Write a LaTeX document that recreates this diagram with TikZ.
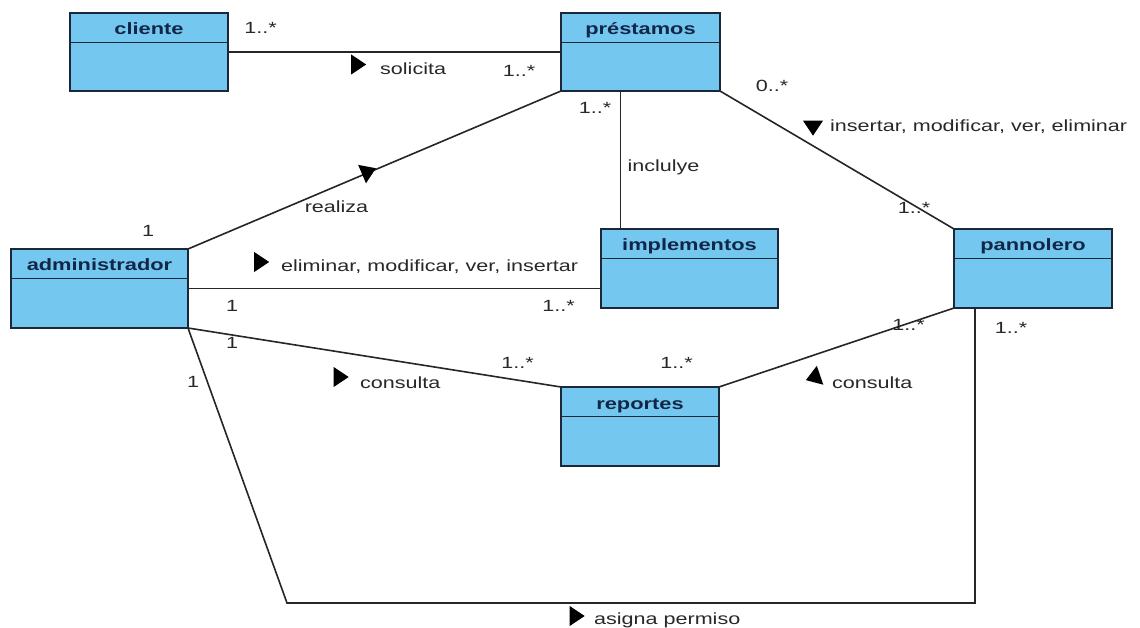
\documentclass[tikz,border=0pt]{standalone}
\usepackage{fontspec}
\newfontfamily\umlfont{Liberation Sans}[FakeStretch=1.33]
\usetikzlibrary{shapes.geometric}
\definecolor{boxfill}{RGB}{116,200,240}
\definecolor{boxline}{RGB}{28,40,58}
\definecolor{titlecol}{RGB}{18,38,72}
\definecolor{lblcol}{RGB}{40,40,40}
\begin{document}
\begin{tikzpicture}[x=1pt,y=-1pt,
  clsbox/.style={draw=boxline, line width=1.8pt, fill=boxfill, inner sep=0, outer sep=0},
  divider/.style={draw=boxline, line width=1.6pt},
  title/.style={font=\umlfont\bfseries\fontsize{16.4}{18}\selectfont, text=titlecol, inner sep=0, anchor=base},
  lbl/.style={font=\umlfont\fontsize{16.2}{18}\selectfont, text=lblcol, inner sep=0},
  assoc/.style={draw=black!85, line width=1.6pt},
  tri/.style={isosceles triangle, isosceles triangle stretches, minimum width=20pt, minimum height=15pt, inner sep=0, outer sep=0, fill=black, draw=none},
]
\useasboundingbox[fill=white] (0,0) rectangle (1140,628);

\node[clsbox, minimum width=158pt, minimum height=78pt] (cliente) at (149,52) {};
\node[clsbox, minimum width=159pt, minimum height=78pt] (prestamos) at (640.5,52) {};
\node[clsbox, minimum width=177pt, minimum height=79pt] (administrador) at (99.5,288.5) {};
\node[clsbox, minimum width=177pt, minimum height=79pt] (implementos) at (689.5,268.5) {};
\node[clsbox, minimum width=158pt, minimum height=79pt] (pannolero) at (1033,268.5) {};
\node[clsbox, minimum width=158pt, minimum height=79pt] (reportes) at (640,426.5) {};

\foreach \n in {cliente,prestamos,administrador,implementos,pannolero,reportes}{
  \draw[divider] ([yshift=-29.5pt]\n.north west) -- ([yshift=-29.5pt]\n.north east);
}

\node[title] (clienteT) at ([yshift=-22pt]cliente.north) {cliente};
\node[title] (prestamosT) at ([yshift=-22pt]prestamos.north) {préstamos};
\node[title] (administradorT) at ([yshift=-22pt]administrador.north) {administrador};
\node[title] (implementosT) at ([yshift=-22pt]implementos.north) {implementos};
\node[title] (pannoleroT) at ([yshift=-22pt]pannolero.north) {pannolero};
\node[title] (reportesT) at ([yshift=-22pt]reportes.north) {reportes};

\coordinate (c1) at (287,603);
\coordinate (c2) at (975,603);

\draw[assoc] (cliente.east) -- (prestamos.west);
\draw[assoc] (administrador.north east) -- (prestamos.south west);
\draw[assoc] ([xshift=-20pt]prestamos.south) -- ([xshift=-20pt]prestamos.south |- implementos.north);
\draw[assoc] (prestamos.south east) -- (pannolero.north west);
\draw[assoc] (administrador.east) -- (administrador.east -| implementos.west);
\draw[assoc] (administrador.south east) -- (reportes.north west);
\draw[assoc] (reportes.north east) -- (pannolero.south west);
\draw[assoc] (administrador.south east) -- (c1) -- (c2) -- (c2 |- pannolero.south);

\node[lbl] (m1) at (260.5,28) {1..*};
\node[tri] (t1) at (356.5,64.5) {};
\node[lbl, anchor=west] (l1) at (380,69) {solicita};
\node[lbl] (m2) at (519,71) {1..*};
\node[lbl] (m3) at (595,108) {1..*};
\node[lbl] (m4) at (772,86) {0..*};
\node[tri, rotate=-90] (t2) at (813,126) {};
\node[lbl, anchor=west] (l2) at (830,127) {insertar, modificar, ver, eliminar};
\node[lbl] (l3) at (663.5,167) {inclulye};
\node[tri, rotate=23] (t3) at (367,172) {};
\node[lbl] (l4) at (336.5,207) {realiza};
\node[lbl] (m5) at (148,231) {1};
\node[lbl] (m6) at (914,208) {1..*};
\node[tri] (t4) at (259.5,262) {};
\node[lbl, anchor=west] (l5) at (281,267) {eliminar, modificar, ver, insertar};
\node[lbl] (m7) at (232,306) {1};
\node[lbl] (m8) at (558.5,306) {1..*};
\node[lbl] (m9) at (232,343) {1};
\node[lbl] (m10) at (193,382) {1};
\node[tri] (t5) at (339,377) {};
\node[lbl, anchor=west] (l6) at (360,383) {consulta};
\node[lbl] (m11) at (517.5,363) {1..*};
\node[lbl] (m12) at (676.5,363) {1..*};
\node[lbl] (m13) at (908.5,325) {1..*};
\node[lbl] (m14) at (1011,328) {1..*};
\node[tri, rotate=199] (t6) at (815,377) {};
\node[lbl, anchor=west] (l7) at (832,383) {consulta};
\node[tri] (t7) at (575,616) {};
\node[lbl, anchor=west] (l8) at (594,620) {asigna permiso};
\end{tikzpicture}
\end{document}
